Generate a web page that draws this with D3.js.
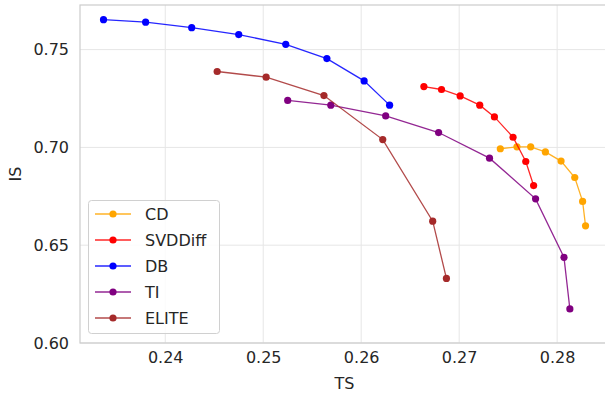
<!DOCTYPE html>
<html><head><meta charset="utf-8">
<script src="https://cdn.jsdelivr.net/npm/d3@7"></script>
<style>body{margin:0;background:#fff}svg{display:block}text{font-family:"DejaVu Sans",sans-serif}</style>
</head><body><svg id="c" width="605" height="394"></svg>
<script>
const seriesNames = ["CD","SVDDiff","DB","TI","ELITE"];
const seriesColors = ["#FFA500","#FF0000","#0000FF","#800080","#A52A2A"];
const cdTS = [0.2742,0.2759,0.2773,0.2788,0.2804,0.2818,0.2826,0.2829];
const cdIS = [0.6993,0.7003,0.7003,0.6977,0.6930,0.6846,0.6724,0.6599];
const svdTS = [0.2664,0.2682,0.2701,0.2721,0.2736,0.2755,0.2768,0.2776];
const svdIS = [0.7311,0.7296,0.7263,0.7216,0.7156,0.7052,0.6928,0.6805];
const dbTS = [0.2337,0.2380,0.2427,0.2475,0.2523,0.2565,0.2603,0.2629];
const dbIS = [0.7653,0.7640,0.7612,0.7577,0.7527,0.7454,0.7340,0.7216];
const tiTS = [0.2525,0.2569,0.2625,0.2679,0.2731,0.2778,0.2807,0.2813];
const tiIS = [0.7240,0.7216,0.7161,0.7076,0.6945,0.6737,0.6438,0.6174];
const eliteTS = [0.2453,0.2503,0.2562,0.2622,0.2673,0.2687];
const eliteIS = [0.7388,0.7359,0.7265,0.7040,0.6623,0.6330];
const xTicks = [0.24,0.25,0.26,0.27,0.28];
const yTicks = [0.60,0.65,0.70,0.75];

const allTS=[cdTS,svdTS,dbTS,tiTS,eliteTS], allIS=[cdIS,svdIS,dbIS,tiIS,eliteIS];
const series = seriesNames.map((n,i)=>({name:n,color:seriesColors[i],pts:allTS[i].map((x,j)=>[x,allIS[i][j]])}));

const svg=d3.select("#c");
const L=80,T=5,R=612,B=343;
const x=d3.scaleLinear().domain([0.2313,0.2849+0.0007]).range([L,R]);
const y=d3.scaleLinear().domain([0.60,0.7728]).range([B,T]);
const grid="#e6e6e6", txt="#262626";

const g=svg.append("g");
g.selectAll(".gx").data(xTicks).join("line").attr("x1",d=>x(d)).attr("x2",d=>x(d)).attr("y1",T).attr("y2",B).attr("stroke",grid).attr("stroke-width",1);
g.selectAll(".gy").data(yTicks).join("line").attr("y1",d=>y(d)).attr("y2",d=>y(d)).attr("x1",L).attr("x2",R).attr("stroke",grid).attr("stroke-width",1);
g.append("rect").attr("x",L).attr("y",T).attr("width",R-L).attr("height",B-T).attr("fill","none").attr("stroke","#cccccc").attr("stroke-width",1.2);

const xa=svg.append("g").attr("transform",`translate(0,${B})`).call(d3.axisBottom(x).tickValues(xTicks).tickFormat(d3.format(".2f")).tickSize(0).tickPadding(9));
xa.select(".domain").remove();
xa.selectAll("text").attr("fill",txt).style("font-size","16px").style("font-family","DejaVu Sans");
const ya=svg.append("g").attr("transform",`translate(${L},0)`).call(d3.axisLeft(y).tickValues(yTicks).tickFormat(d3.format(".2f")).tickSize(0).tickPadding(11));
ya.select(".domain").remove();
ya.selectAll("text").attr("fill",txt).style("font-size","16px").style("font-family","DejaVu Sans");

svg.append("text").attr("x",(L+605)/2+2).attr("y",389).attr("text-anchor","middle").attr("fill",txt).style("font-size","16px").text("TS");
svg.append("text").attr("transform",`translate(21,${(T+B)/2}) rotate(-90)`).attr("text-anchor","middle").attr("fill",txt).style("font-size","16px").text("IS");

const line=d3.line().x(d=>x(d[0])).y(d=>y(d[1]));
const order=[0,1,2,3,4];
order.forEach(i=>{
  const s=series[i];
  svg.append("path").attr("d",line(s.pts)).attr("fill","none").attr("stroke",s.color).attr("stroke-width",1.3).attr("stroke-opacity",0.85);
  svg.selectAll(null).data(s.pts).join("circle").attr("cx",d=>x(d[0])).attr("cy",d=>y(d[1])).attr("r",3.6).attr("fill",s.color);
});

// legend
const lg=svg.append("g");
lg.append("rect").attr("x",88.5).attr("y",200.5).attr("width",131).attr("height",133).attr("rx",3).attr("fill","#fff").attr("fill-opacity",0.85).attr("stroke","#d0d0d0");
series.forEach((s,i)=>{
  const yy=214+i*26;
  lg.append("line").attr("x1",95).attr("x2",131).attr("y1",yy).attr("y2",yy).attr("stroke",s.color).attr("stroke-width",1.3).attr("stroke-opacity",0.85);
  lg.append("circle").attr("cx",113).attr("cy",yy).attr("r",3.6).attr("fill",s.color);
  lg.append("text").attr("x",145).attr("y",yy).attr("dy","0.36em").attr("fill",txt).style("font-size","16px").text(s.name);
});
</script></body></html>
